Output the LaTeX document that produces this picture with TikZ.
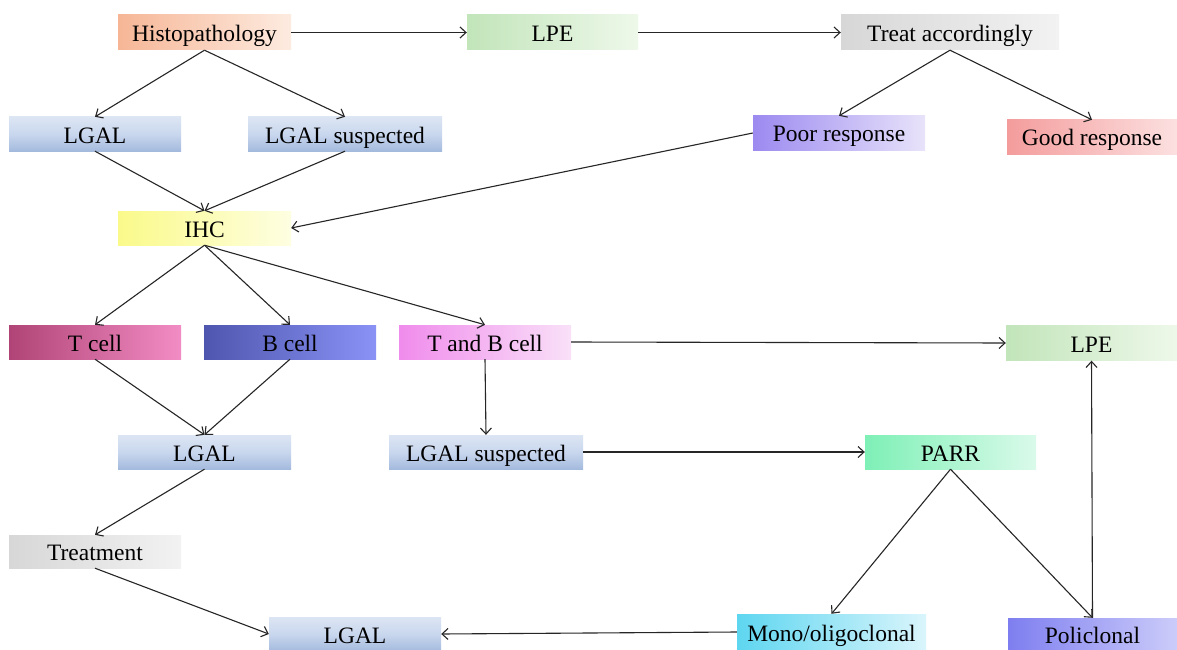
\documentclass[tikz,border=0pt]{standalone}
\usepackage{fontspec}
\setmainfont{Liberation Serif}
\usetikzlibrary{arrows.meta}
\definecolor{lgtop}{HTML}{DCE5F3}
\definecolor{lgmid}{HTML}{C9D7EE}
\definecolor{lgbot}{HTML}{A4BADD}
\definecolor{histoL}{HTML}{F6B696}\definecolor{histoR}{HTML}{FDEBE0}
\definecolor{lpeL}{HTML}{C2E5BA}\definecolor{lpeR}{HTML}{EEF8EA}
\definecolor{grayL}{HTML}{D7D7D7}\definecolor{grayR}{HTML}{F2F2F2}
\definecolor{poorL}{HTML}{9C8AF0}\definecolor{poorR}{HTML}{E8E3FA}
\definecolor{goodL}{HTML}{F49C9C}\definecolor{goodR}{HTML}{FCE0E0}
\definecolor{ihcL}{HTML}{FAFA8A}\definecolor{ihcR}{HTML}{FEFEE2}
\definecolor{tL}{HTML}{B04476}\definecolor{tR}{HTML}{F28CC4}
\definecolor{bL}{HTML}{4E56AE}\definecolor{bR}{HTML}{8A92F6}
\definecolor{tbL}{HTML}{F08CEC}\definecolor{tbR}{HTML}{F9E0F8}
\definecolor{parrL}{HTML}{7EF0B6}\definecolor{parrR}{HTML}{DAFAEA}
\definecolor{monoL}{HTML}{5ED6F0}\definecolor{monoR}{HTML}{DAF5FC}
\definecolor{poliL}{HTML}{7E7EF0}\definecolor{poliR}{HTML}{CCCCFA}
\begin{document}
\begin{tikzpicture}[x=1pt,y=-1pt,
  box/.style={rectangle,inner sep=0pt,font=\fontsize{23.5}{25}\selectfont,text=black,text height=19pt,text depth=1pt},
  hz/.style 2 args={left color=#1,right color=#2},
  vt/.style={top color=lgtop,bottom color=lgbot,middle color=lgmid},
  conn/.style={draw=black!85,line width=1.1pt,-{Straight Barb[length=6pt,width=11pt]}}]
\useasboundingbox (0,0) rectangle (1177,650);
\fill[white] (0,0) rectangle (1177,650);
% row 1
\node[box,hz={histoL}{histoR},minimum width=173pt,minimum height=35pt] (histo) at (204.5,32.5) {Histopathology};
\node[box,hz={lpeL}{lpeR},minimum width=171pt,minimum height=35pt] (lpea) at (552.5,32.5) {LPE};
\node[box,hz={grayL}{grayR},minimum width=218pt,minimum height=35pt] (treat) at (950,32.5) {Treat accordingly};
% row 2
\node[box,vt,minimum width=172pt,minimum height=34pt] (lgala) at (95,134) {LGAL};
\node[box,vt,minimum width=194pt,minimum height=34pt] (lgsa) at (345,134) {LGAL suspected};
\node[box,hz={poorL}{poorR},minimum width=172pt,minimum height=34pt] (poor) at (839,133) {Poor response};
\node[box,hz={goodL}{goodR},minimum width=170pt,minimum height=34pt] (good) at (1092,137) {Good response};
% row 3
\node[box,hz={ihcL}{ihcR},minimum width=173pt,minimum height=34pt] (ihc) at (204.5,228) {IHC};
% row 4
\node[box,hz={tL}{tR},minimum width=172pt,minimum height=34pt] (tcell) at (95,342) {T cell};
\node[box,hz={bL}{bR},minimum width=172pt,minimum height=34pt] (bcell) at (290,342) {B cell};
\node[box,hz={tbL}{tbR},minimum width=172pt,minimum height=34pt] (tb) at (485,342) {T and B cell};
\node[box,hz={lpeL}{lpeR},minimum width=171pt,minimum height=35pt] (lpeb) at (1091.5,343) {LPE};
% row 5
\node[box,vt,minimum width=173pt,minimum height=34pt] (lgalb) at (204.5,452) {LGAL};
\node[box,vt,minimum width=194pt,minimum height=34pt] (lgsb) at (486,452) {LGAL suspected};
\node[box,hz={parrL}{parrR},minimum width=171pt,minimum height=34pt] (parr) at (950.5,452) {PARR};
% row 6
\node[box,hz={grayL}{grayR},minimum width=172pt,minimum height=33pt] (treatm) at (95,551.5) {Treatment};
% row 7
\node[box,vt,minimum width=172pt,minimum height=34pt] (lgalc) at (355,634) {LGAL};
\node[box,hz={monoL}{monoR},minimum width=189pt,minimum height=36pt] (mono) at (831.5,632) {Mono/oligoclonal};
\node[box,hz={poliL}{poliR},minimum width=169pt,minimum height=33pt] (poli) at (1092.5,634.5) {Policlonal};
% connectors
\draw[conn] (histo.east) -- (lpea.west);
\draw[conn] (lpea.east) -- (treat.west);
\draw[conn] (histo.south) -- (lgala.north);
\draw[conn] (histo.south) -- (lgsa.north);
\draw[conn] (treat.south) -- (poor.north);
\draw[conn] (treat.south) -- (good.north);
\draw[conn] (lgala.south) -- (ihc.north);
\draw[conn] (lgsa.south) -- (ihc.north);
\draw[conn] (poor.west) -- (ihc.east);
\draw[conn] (ihc.south) -- (tcell.north);
\draw[conn] (ihc.south) -- (bcell.north);
\draw[conn] (ihc.south) -- (tb.north);
\draw[conn] (tcell.south) -- (lgalb.north);
\draw[conn] (bcell.south) -- (lgalb.north);
\draw[conn] (tb.east) -- (lpeb.west);
\draw[conn] (tb.south) -- (lgsb.north);
\draw[conn] (lgsb.east) -- (parr.west);
\draw[conn] (parr.south) -- (mono.north);
\draw[conn] (parr.south) -- (poli.north);
\draw[conn] (poli.north) -- (lpeb.south);
\draw[conn] (lgalb.south) -- (treatm.north);
\draw[conn] (treatm.south) -- (lgalc.west);
\draw[conn] (mono.west) -- (lgalc.east);
\end{tikzpicture}
\end{document}
